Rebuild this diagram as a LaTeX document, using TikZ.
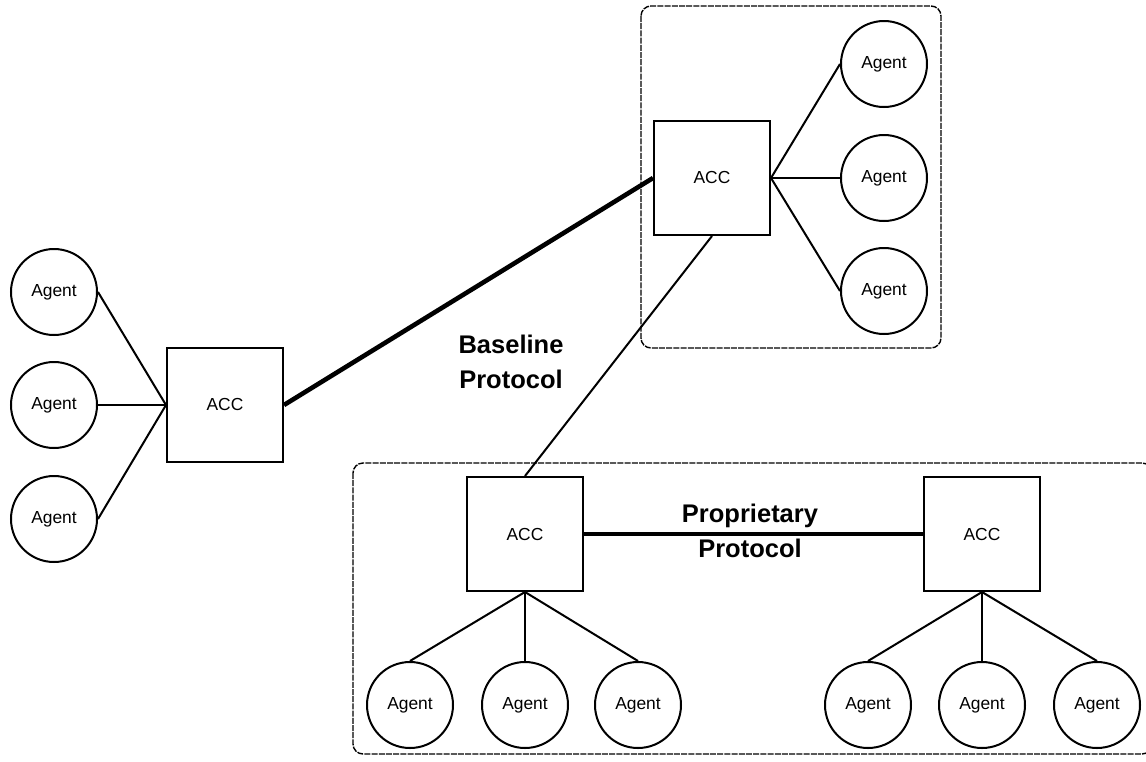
\documentclass[tikz,border=0pt]{standalone}
\usepackage{fontspec}
\setmainfont{Liberation Sans}

\begin{document}
\begin{tikzpicture}[x=0.5pt,y=-0.5pt,line width=1pt]
      \tikzstyle{agent}=[draw, circle,minimum size=43pt,inner sep=0pt,font=\fontsize{8.7}{10}\selectfont]
      \tikzstyle{acc}=[draw, rectangle,minimum width=58pt,minimum height=57pt,inner sep=0pt,font=\fontsize{8.7}{10}\selectfont]
      \tikzstyle{proto}=[line width=2.3pt]
      \tikzstyle{platform}=[line width=0.7pt,dash pattern=on 3pt off 0.6pt,rounded corners=5pt]
      \tikzstyle{protolabel}=[align=center,font=\fontsize{12.75}{17.5}\selectfont\bfseries]
      \clip (0,0) rectangle (1146,761);
      \draw[platform] (641,6) rectangle (941,348);
      \draw[platform] (353,463) rectangle (1152,754);

      \foreach \name/\x/\y in {l/225/405, t/712/178, b1/525/534, b2/982/534}
        \node[acc] (A-\name) at (\x,\y) {ACC};
      \foreach \name/\x/\y in {l1/54/292, l2/54/405, l3/54/519, t1/884/64, t2/884/178, t3/884/291,
                               b1/410/705, b2/525/705, b3/638/705, b4/868/705, b5/982/705, b6/1097/705}
        \node[agent] (G-\name) at (\x,\y) {Agent};

      \foreach \from/\to in {G-l1.east/A-l.west, G-l2.east/A-l.west, G-l3.east/A-l.west,
                             A-t.east/G-t1.west, A-t.east/G-t2.west, A-t.east/G-t3.west,
                             A-b1.south/G-b1.north, A-b1.south/G-b2.north, A-b1.south/G-b3.north,
                             A-b2.south/G-b4.north, A-b2.south/G-b5.north, A-b2.south/G-b6.north,
                             A-t.south/A-b1.north}
        \draw (\from) -- (\to);

      \draw[proto] (A-l.east) -- (A-t.west);
      \draw[proto] (A-b1.east) -- (A-b2.west);
      \node[protolabel] (base) at (511,362) {Baseline\\Protocol};
      \node[protolabel] (prop) at (750,531) {Proprietary\\Protocol};
    \end{tikzpicture}
\end{document}
